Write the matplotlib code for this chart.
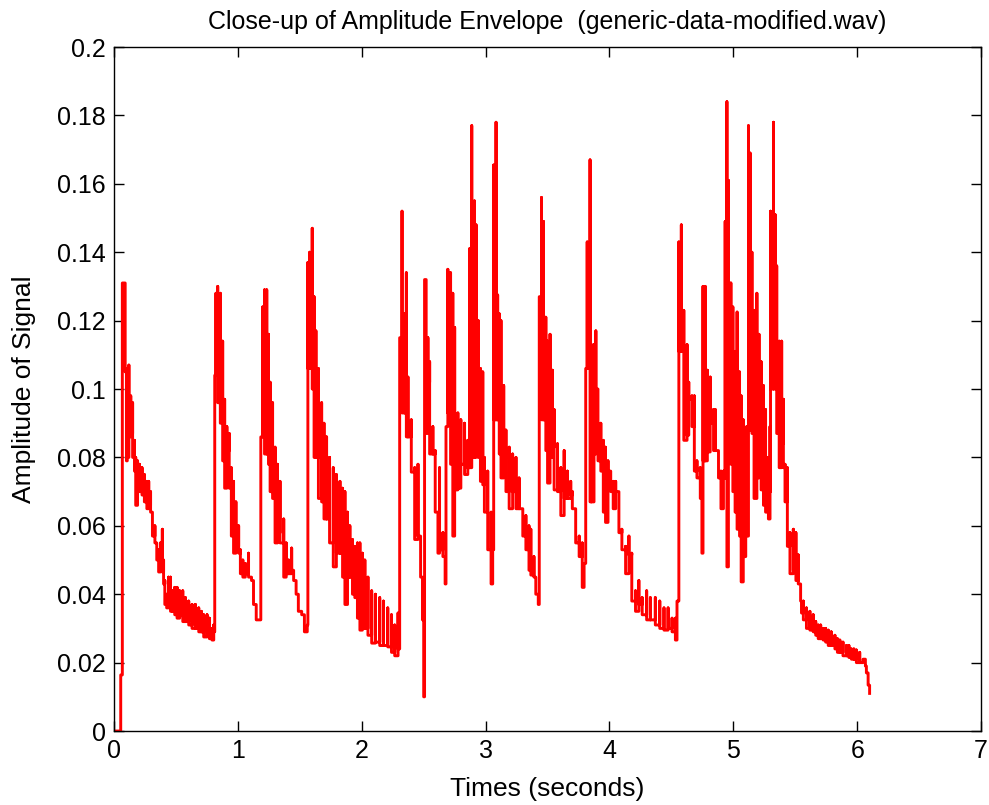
import numpy as np
import matplotlib.pyplot as plt

# Envelope readings: time (s), upper and lower value at each sample
times = [0.0, 0.054, 0.067, 0.09, 0.1, 0.107, 0.12, 0.135, 0.15, 0.165, 0.175, 0.19, 0.205, 0.226,
         0.245, 0.265, 0.28, 0.295, 0.31, 0.33, 0.345, 0.36, 0.375, 0.39, 0.40, 0.41, 0.425, 0.44,
         0.456, 0.47, 0.49, 0.509, 0.53, 0.555, 0.577, 0.603, 0.63, 0.657, 0.684, 0.705, 0.724,
         0.751, 0.77, 0.791, 0.805, 0.813, 0.823, 0.837, 0.858, 0.877, 0.893, 0.911, 0.93, 0.947,
         0.965, 0.984, 1.006, 1.02, 1.04, 1.06, 1.086, 1.11, 1.126, 1.148, 1.18, 1.185, 1.20,
         1.215, 1.233, 1.247, 1.26, 1.28, 1.30, 1.32, 1.34, 1.37, 1.39, 1.41, 1.434, 1.45, 1.47,
         1.488, 1.515, 1.537, 1.56, 1.565, 1.58, 1.60, 1.615, 1.63, 1.65, 1.676, 1.695, 1.716,
         1.74, 1.77, 1.795, 1.824, 1.845, 1.864, 1.885, 1.904, 1.925, 1.944, 1.965, 1.985, 2.005,
         2.025, 2.05, 2.08, 2.11, 2.145, 2.175, 2.21, 2.24, 2.266, 2.293, 2.306, 2.325, 2.347,
         2.36, 2.373, 2.40, 2.427, 2.454, 2.475, 2.49, 2.50, 2.507, 2.52, 2.534, 2.548, 2.574,
         2.593, 2.615, 2.628, 2.655, 2.673, 2.68, 2.695, 2.717, 2.735, 2.75, 2.776, 2.80, 2.83,
         2.856, 2.87, 2.888, 2.91, 2.923, 2.94, 2.958, 2.977, 2.99, 3.017, 3.044, 3.057, 3.065,
         3.084, 3.097, 3.11, 3.124, 3.146, 3.164, 3.19, 3.218, 3.245, 3.27, 3.30, 3.325, 3.35,
         3.365, 3.39, 3.405, 3.425, 3.433, 3.451, 3.467, 3.486, 3.50, 3.52, 3.54, 3.553, 3.58,
         3.607, 3.634, 3.66, 3.687, 3.70, 3.727, 3.755, 3.78, 3.795, 3.808, 3.82, 3.843, 3.853,
         3.875, 3.89, 3.907, 3.93, 3.95, 3.968, 3.988, 4.01, 4.03, 4.05, 4.076, 4.10, 4.13,
         4.157, 4.18, 4.21, 4.237, 4.264, 4.30, 4.33, 4.37, 4.406, 4.44, 4.473, 4.505, 4.532,
         4.545, 4.56, 4.58, 4.60, 4.626, 4.64, 4.666, 4.685, 4.706, 4.733, 4.746, 4.755, 4.773,
         4.79, 4.813, 4.84, 4.854, 4.88, 4.90, 4.92, 4.934, 4.948, 4.96, 4.98, 4.996, 5.014,
         5.03, 5.05, 5.063, 5.08, 5.10, 5.108, 5.122, 5.135, 5.15, 5.167, 5.19, 5.207, 5.224,
         5.243, 5.26, 5.283, 5.296, 5.30, 5.324, 5.337, 5.35, 5.37, 5.39, 5.404, 5.417, 5.436,
         5.457, 5.484, 5.505, 5.524, 5.543, 5.55, 5.565, 5.59, 5.618, 5.645, 5.665, 5.685,
         5.705, 5.725, 5.745, 5.766, 5.79, 5.82, 5.84, 5.86, 5.885, 5.913, 5.933, 5.953, 5.973,
         5.993, 6.02, 6.047, 6.066, 6.074, 6.088, 6.10]

upper = [0.0, 0.0164, 0.131, 0.131, 0.106, 0.104, 0.107, 0.098, 0.096, 0.085, 0.080, 0.079, 0.078,
         0.077, 0.075, 0.073, 0.073, 0.070, 0.064, 0.060, 0.055, 0.053, 0.055, 0.059, 0.050, 0.044,
         0.040, 0.045, 0.045, 0.041, 0.042, 0.042, 0.041, 0.041, 0.039, 0.038, 0.037, 0.037, 0.036,
         0.035, 0.034, 0.034, 0.033, 0.030, 0.031, 0.104, 0.128, 0.130, 0.128, 0.114, 0.097, 0.089,
         0.087, 0.077, 0.073, 0.067, 0.060, 0.053, 0.050, 0.049, 0.052, 0.044, 0.037, 0.0325,
         0.0325, 0.086, 0.124, 0.129, 0.129, 0.116, 0.102, 0.096, 0.083, 0.078, 0.073, 0.062,
         0.055, 0.050, 0.0535, 0.047, 0.040, 0.035, 0.034, 0.029, 0.031, 0.137, 0.140, 0.147,
         0.127, 0.117, 0.106, 0.096, 0.090, 0.086, 0.080, 0.077, 0.075, 0.073, 0.071, 0.070, 0.064,
         0.060, 0.056, 0.054, 0.055, 0.055, 0.052, 0.050, 0.045, 0.041, 0.040, 0.039, 0.038, 0.036,
         0.034, 0.031, 0.0345, 0.115, 0.152, 0.122, 0.134, 0.1035, 0.091, 0.077, 0.078, 0.056,
         0.0325, 0.021, 0.132, 0.118, 0.115, 0.108, 0.089, 0.082, 0.064, 0.077, 0.058, 0.051,
         0.089, 0.135, 0.134, 0.128, 0.118, 0.093, 0.091, 0.090, 0.085, 0.141, 0.177, 0.155,
         0.148, 0.120, 0.106, 0.105, 0.080, 0.076, 0.064, 0.053, 0.1655, 0.178, 0.1275, 0.122,
         0.120, 0.101, 0.088, 0.083, 0.081, 0.080, 0.074, 0.064, 0.063, 0.060, 0.059, 0.051,
         0.045, 0.037, 0.127, 0.156, 0.149, 0.121, 0.114, 0.116, 0.1055, 0.094, 0.084, 0.077,
         0.082, 0.076, 0.073, 0.070, 0.064, 0.057, 0.055, 0.049, 0.106, 0.143, 0.167, 0.113,
         0.113, 0.117, 0.099, 0.090, 0.085, 0.083, 0.079, 0.075, 0.073, 0.073, 0.066, 0.059,
         0.054, 0.057, 0.052, 0.041, 0.044, 0.039, 0.041, 0.039, 0.039, 0.038, 0.036, 0.036,
         0.033, 0.033, 0.038, 0.143, 0.148, 0.123, 0.113, 0.102, 0.098, 0.098, 0.079, 0.077,
         0.068, 0.130, 0.130, 0.1055, 0.1035, 0.094, 0.094, 0.082, 0.076, 0.076, 0.149, 0.184,
         0.161, 0.131, 0.124, 0.111, 0.1225, 0.105, 0.098, 0.091, 0.082, 0.089, 0.177, 0.169,
         0.140, 0.123, 0.128, 0.116, 0.108, 0.101, 0.094, 0.080, 0.089, 0.152, 0.178, 0.151,
         0.136, 0.114, 0.114, 0.097, 0.078, 0.077, 0.058, 0.059, 0.058, 0.0515, 0.038, 0.0345,
         0.038, 0.036, 0.035, 0.034, 0.032, 0.031, 0.031, 0.030, 0.030, 0.0295, 0.029, 0.028,
         0.027, 0.0266, 0.026, 0.025, 0.025, 0.024, 0.024, 0.0237, 0.023, 0.021, 0.019, 0.017,
         0.0134, 0.011]

lower = [0.0, 0.0164, 0.131, 0.105, 0.079, 0.080, 0.086, 0.087, 0.080, 0.076, 0.066, 0.071, 0.070,
         0.069, 0.067, 0.065, 0.066, 0.064, 0.057, 0.055, 0.050, 0.0465, 0.047, 0.0465, 0.043,
         0.037, 0.036, 0.037, 0.035, 0.035, 0.034, 0.033, 0.034, 0.032, 0.032, 0.031, 0.030,
         0.030, 0.029, 0.029, 0.0275, 0.028, 0.027, 0.0266, 0.029, 0.104, 0.104, 0.096, 0.090,
         0.079, 0.071, 0.082, 0.071, 0.057, 0.052, 0.054, 0.052, 0.046, 0.045, 0.046, 0.045,
         0.044, 0.037, 0.0325, 0.0325, 0.086, 0.086, 0.081, 0.081, 0.078, 0.070, 0.068, 0.055,
         0.058, 0.055, 0.045, 0.046, 0.046, 0.047, 0.044, 0.040, 0.035, 0.034, 0.029, 0.031,
         0.106, 0.106, 0.100, 0.080, 0.080, 0.068, 0.067, 0.062, 0.062, 0.055, 0.048, 0.052,
         0.052, 0.045, 0.037, 0.045, 0.045, 0.040, 0.039, 0.033, 0.0295, 0.030, 0.030, 0.028,
         0.0257, 0.026, 0.025, 0.025, 0.0246, 0.023, 0.022, 0.024, 0.115, 0.093, 0.093, 0.086,
         0.086, 0.0757, 0.056, 0.057, 0.045, 0.0325, 0.010, 0.132, 0.087, 0.102, 0.081, 0.081,
         0.064, 0.052, 0.053, 0.051, 0.043, 0.089, 0.093, 0.078, 0.057, 0.0705, 0.071, 0.078,
         0.075, 0.077, 0.077, 0.080, 0.080, 0.091, 0.080, 0.073, 0.072, 0.064, 0.053, 0.043,
         0.053, 0.091, 0.091, 0.091, 0.081, 0.074, 0.080, 0.070, 0.065, 0.070, 0.065, 0.065,
         0.057, 0.053, 0.047, 0.0456, 0.045, 0.040, 0.037, 0.127, 0.091, 0.091, 0.082, 0.0725,
         0.080, 0.083, 0.0705, 0.070, 0.063, 0.068, 0.068, 0.069, 0.065, 0.055, 0.051, 0.042,
         0.049, 0.106, 0.106, 0.067, 0.067, 0.081, 0.100, 0.079, 0.076, 0.064, 0.061, 0.076,
         0.070, 0.065, 0.070, 0.058, 0.053, 0.046, 0.0515, 0.038, 0.035, 0.037, 0.034, 0.0325,
         0.0325, 0.031, 0.030, 0.0295, 0.030, 0.029, 0.0266, 0.038, 0.111, 0.111, 0.085, 0.0865,
         0.097, 0.089, 0.076, 0.074, 0.068, 0.052, 0.079, 0.079, 0.0816, 0.090, 0.082, 0.082,
         0.074, 0.065, 0.074, 0.074, 0.048, 0.086, 0.078, 0.070, 0.064, 0.059, 0.057, 0.0436,
         0.051, 0.061, 0.057, 0.088, 0.088, 0.087, 0.068, 0.074, 0.076, 0.0705, 0.066, 0.064,
         0.062, 0.070, 0.100, 0.100, 0.1035, 0.087, 0.077, 0.084, 0.077, 0.067, 0.054, 0.046,
         0.047, 0.044, 0.043, 0.038, 0.0345, 0.0325, 0.030, 0.0295, 0.029, 0.028, 0.027, 0.027,
         0.0266, 0.026, 0.025, 0.025, 0.024, 0.023, 0.023, 0.022, 0.022, 0.0215, 0.021, 0.021,
         0.020, 0.020, 0.021, 0.019, 0.017, 0.0134, 0.011]

# each sample drawn as a vertical stroke from upper to lower, joined as steps
t_path = np.repeat(times, 2)
a_path = np.column_stack([upper, lower]).ravel()

plt.rcParams['font.family'] = ['Liberation Sans', 'DejaVu Sans']

fig = plt.figure(figsize=(9.89, 8.05), dpi=100)
ax = fig.add_axes([0.1153, 0.0919, 0.8767, 0.8497])
ax.plot(t_path, a_path, color='red', linewidth=2.1, drawstyle='steps-post')

ax.set_xlim(0, 7)
ax.set_ylim(0, 0.2)
ax.set_xticks(range(0, 8))
ax.set_yticks(np.arange(0, 0.201, 0.02))
ax.set_yticklabels(['0', '0.02', '0.04', '0.06', '0.08', '0.1', '0.12', '0.14', '0.16', '0.18', '0.2'])
ax.tick_params(direction='in', length=7, width=1, top=True, right=True, labelsize=18, pad=6)
for s in ax.spines.values():
    s.set_linewidth(1)

ax.set_title('Close-up of Amplitude Envelope  (generic-data-modified.wav)', fontsize=18, pad=13)
ax.set_xlabel('Times (seconds)', fontsize=19, labelpad=10)
ax.set_ylabel('Amplitude of Signal', fontsize=19, labelpad=15)

fig.savefig('out.png', dpi=100)
